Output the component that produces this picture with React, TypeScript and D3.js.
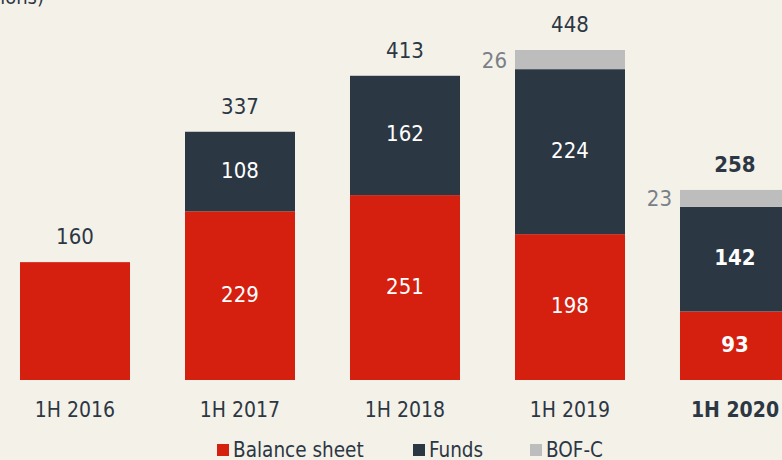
import React from "react";
import * as d3 from "d3";

const categories = ["1H 2016", "1H 2017", "1H 2018", "1H 2019", "1H 2020"];
const balanceSheet = [160, 229, 251, 198, 93];
const funds = [0, 108, 162, 224, 142];
const bofc = [0, 0, 0, 26, 23];
const totals = [160, 337, 413, 448, 258];
const seriesNames = ["Balance sheet", "Funds", "BOF-C"];
const highlighted = "1H 2020";

const W = 782;
const H = 460;
const BG = "#f4f1e9";
const RED = "#d52010";
const DARK = "#2c3744";
const GREY = "#bdbdbd";
const TEXT = "#2c3744";
const GREY_TEXT = "#7a8087";
const FONT = "'DejaVu Sans Condensed', 'DejaVu Sans', sans-serif";

export default function App() {
  const x = d3.scaleBand<string>().domain(categories).range([20, 790]).paddingInner(1 / 3).paddingOuter(0);
  const y = d3.scaleLinear().domain([0, 448]).range([380, 50]);
  const bw = x.bandwidth();
  const colors = [RED, DARK, GREY];

  const rows = categories.map((c, i) => {
    const vals = [balanceSheet[i], funds[i], bofc[i]];
    let acc = 0;
    const segs = vals.map((v, k) => {
      const y0 = acc;
      acc += v;
      return { k, v, y0, y1: acc };
    });
    return { c, i, segs };
  });

  const legendItems = [
    { sq: 217, tx: 233 },
    { sq: 413, tx: 429 },
    { sq: 530, tx: 546 },
  ];

  return (
    <svg
      width={W}
      height={H}
      style={{ position: "absolute", left: 0, top: 0, display: "block", background: BG }}
      fontFamily={FONT}
      fontStretch="condensed"
    >
      <rect x={0} y={0} width={W} height={H} fill={BG} />
      <text x={44} y={4} textAnchor="end" fontSize={20} fill={TEXT}>
        (€ billions)
      </text>
      {rows.map(({ c, i, segs }) => {
        const x0 = x(c)!;
        const bold = c === highlighted;
        const hasStack = funds[i] > 0;
        return (
          <g key={c}>
            {segs
              .filter((s) => s.v > 0)
              .map((s) => (
                <rect
                  key={s.k}
                  x={x0}
                  y={y(s.y1)}
                  width={bw}
                  height={y(s.y0) - y(s.y1)}
                  fill={colors[s.k]}
                />
              ))}
            {hasStack &&
              segs
                .filter((s) => s.k < 2 && s.v > 0)
                .map((s) => (
                  <text
                    key={"l" + s.k}
                    x={x0 + bw / 2}
                    y={(y(s.y0) + y(s.y1)) / 2 + 6}
                    textAnchor="middle"
                    fontSize={22}
                    fontWeight={bold ? "bold" : "normal"}
                    fill="#ffffff"
                  >
                    {s.v}
                  </text>
                ))}
            {bofc[i] > 0 && (
              <text
                x={x0 - 8}
                y={(y(segs[2].y0) + y(segs[2].y1)) / 2 + 8}
                textAnchor="end"
                fontSize={22}
                fill={GREY_TEXT}
              >
                {bofc[i]}
              </text>
            )}
            <text
              x={x0 + bw / 2}
              y={y(totals[i]) - 18}
              textAnchor="middle"
              fontSize={22}
              fontWeight={bold ? "bold" : "normal"}
              fill={TEXT}
            >
              {totals[i]}
            </text>
            <text
              x={x0 + bw / 2}
              y={417}
              textAnchor="middle"
              fontSize={21}
              fontWeight={bold ? "bold" : "normal"}
              fill={TEXT}
            >
              {c}
            </text>
          </g>
        );
      })}
      {seriesNames.map((n, k) => (
        <g key={n}>
          <rect x={legendItems[k].sq} y={444} width={12} height={12} fill={colors[k]} />
          <text x={legendItems[k].tx} y={457} fontSize={20.5} fill={TEXT}>
            {n}
          </text>
        </g>
      ))}
    </svg>
  );
}
